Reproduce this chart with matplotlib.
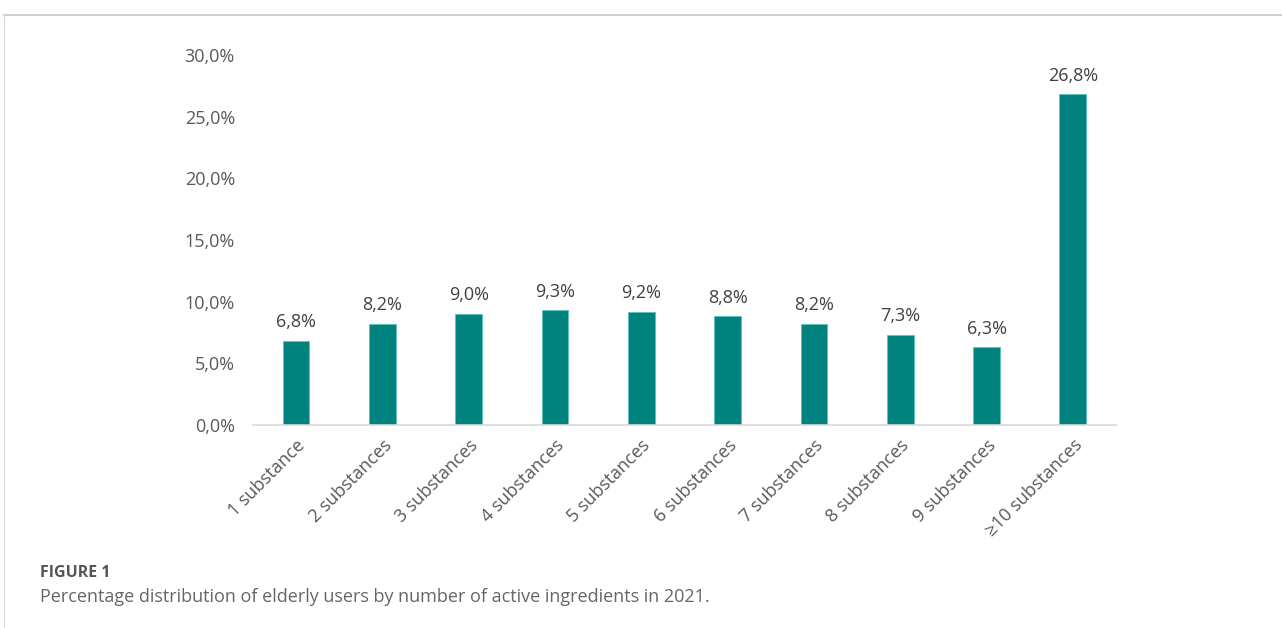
import matplotlib.pyplot as plt
from matplotlib.lines import Line2D
from matplotlib.ticker import FuncFormatter

# data
categories = ['1 substance', '2 substances', '3 substances', '4 substances',
              '5 substances', '6 substances', '7 substances', '8 substances',
              '9 substances', '\u226510 substances']
shares = [6.8, 8.2, 9.0, 9.3, 9.2, 8.8, 8.2, 7.3, 6.3, 26.8]
yticks = [0, 5, 10, 15, 20, 25, 30]

plt.rcParams['font.family'] = ['Open Sans', 'DejaVu Sans']

fig = plt.figure(figsize=(12.82, 6.28), dpi=100)
ax = fig.add_axes([0.1973, 0.3232, 0.6732, 0.5892])

x = range(len(categories))
ax.bar(x, shares, width=0.31, color='#00837F', edgecolor='#5cc0bb', linewidth=0.6)

for xi, v in zip(x, shares):
    ax.annotate(f"{v:.1f}%".replace('.', ','), (xi, v), xytext=(0, 7),
                textcoords='offset points', ha='center', va='bottom',
                fontsize=13, color='#404040')

ax.set_xlim(-0.5, len(categories) - 0.5)
ax.set_ylim(0, 30)
ax.set_yticks(yticks)
ax.yaxis.set_major_formatter(FuncFormatter(lambda v, p: f"{v:.1f}%".replace('.', ',')))
ax.set_xticks(list(x))
ax.set_xticklabels(categories, rotation=45, ha='right', rotation_mode='anchor')

for s in ['top', 'right', 'left']:
    ax.spines[s].set_visible(False)
ax.spines['bottom'].set_color('#d9d9d9')
ax.spines['bottom'].set_linewidth(1.2)
ax.tick_params(axis='both', length=0, labelsize=13, labelcolor='#595959')
ax.tick_params(axis='y', pad=13)
ax.tick_params(axis='x', pad=8)

# frame lines of the figure panel
fig.add_artist(Line2D([0.003, 1.0], [1 - 15 / 628, 1 - 15 / 628],
                      color='#cfcfcf', linewidth=1.5, transform=fig.transFigure))
fig.add_artist(Line2D([0.0035, 0.0035], [0.0, 1 - 15 / 628],
                      color='#dddddd', linewidth=1.0, transform=fig.transFigure))

fig.text(40 / 1282, 1 - 573 / 628, 'FIGURE 1', fontsize=11.5, fontweight='bold',
         color='#555555', va='center', ha='left')
fig.text(40 / 1282, 1 - 597 / 628,
         'Percentage distribution of elderly users by number of active ingredients in 2021.',
         fontsize=13, color='#666666', va='center', ha='left')

fig.savefig('out.png', dpi=100, facecolor='white')
